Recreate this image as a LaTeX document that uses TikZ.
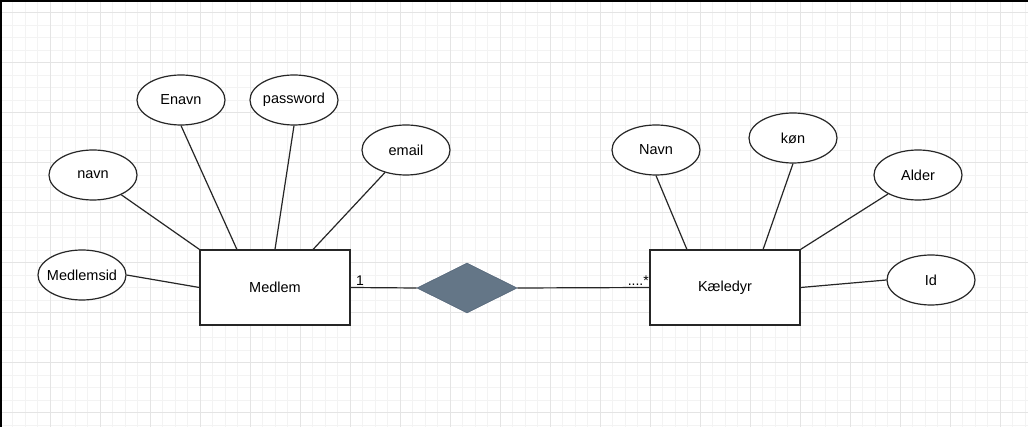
\documentclass[tikz,border=0pt]{standalone}
\usepackage{fontspec}
\setmainfont{Liberation Sans}
\usepackage{xcolor}
\usetikzlibrary{positioning, shapes.geometric}

\definecolor{gridmajor}{HTML}{E4E4E4}
\definecolor{gridminor}{HTML}{F3F3F3}
\definecolor{relfill}{HTML}{647687}
\definecolor{reldraw}{HTML}{56677A}

\tikzset{
  entity/.style={draw=black!85, line width=1.2pt, fill=white,
    minimum width=150pt, minimum height=75pt,
    font=\fontsize{14.5}{17}\selectfont},
  attrib/.style={ellipse, draw=black!85, line width=1.2pt, fill=white,
    minimum width=88pt, minimum height=50pt, inner sep=0pt,
    font=\fontsize{14.5}{17}\selectfont},
  relation/.style={diamond, fill=relfill, draw=reldraw, line width=0.6pt,
    minimum width=100pt, minimum height=50pt, inner sep=0pt},
  link/.style={draw=black!85, line width=1.2pt},
  mult/.style={inner sep=0pt, font=\fontsize{14}{16}\selectfont}
}

\begin{document}
\begin{tikzpicture}[x=1pt, y=-1pt]
  \useasboundingbox (0,0) rectangle (1028,427);
  \fill[white] (0,0) rectangle (1028,427);

  \foreach \i in {1,...,82}
    \draw[gridminor, line width=0.8pt] (\i*12.5,0) -- (\i*12.5,427);
  \foreach \i in {0,...,34}
    \draw[gridminor, line width=0.8pt] (0,\i*12.5) -- (1028,\i*12.5);
  \foreach \i in {1,...,20}
    \draw[gridmajor, line width=1pt] (\i*50,0) -- (\i*50,427);
  \foreach \i in {0,...,8}
    \draw[gridmajor, line width=1pt] (0,\i*50+12.5) -- (1028,\i*50+12.5);

  \draw[black, line width=2pt] (0,1) -- (1028,1);
  \draw[black, line width=2pt] (1,0) -- (1,427);

  \node[entity] (medlem) at (275,287.5) {Medlem};
  \node[entity] (kaeledyr) at (725,287.5) {Kæledyr};
  \node[relation] (rel) at (467,288) {};

  \node[attrib] (navn) at (93,175) {navn};
  \node[attrib] (enavn) at (181,100) {Enavn};
  \node[attrib] (password) at (294,100) {password};
  \node[attrib] (email) at (406,150) {email};
  \node[attrib, inner xsep=-8pt] (medlemsid) at (82,275) {Medlemsid};

  \node[attrib] (dyrnavn) at (656,150) {Navn};
  \node[attrib] (koen) at (793,138) {køn};
  \node[attrib] (alder) at (918,175) {Alder};
  \node[attrib] (id) at (931,280) {Id};

  \draw[link] (navn) -- (medlem.north west);
  \draw[link] (enavn.south) -- (medlem.135);
  \draw[link] (password.south) -- (medlem.north);
  \draw[link] (email) -- (medlem.45);
  \draw[link] (medlemsid.east) -- (medlem.west);

  \draw[link] (dyrnavn.south) -- (kaeledyr.135);
  \draw[link] (koen.south) -- (kaeledyr.45);
  \draw[link] (alder) -- (kaeledyr.north east);
  \draw[link] (id.west) -- (kaeledyr.east);

  \draw[link] (medlem.east) -- (rel.west);
  \draw[link] (rel.east) -- (kaeledyr.west);

  \node[mult, anchor=base west] (en) at (356,286) {1};
  \node[mult, anchor=base east] (mange) at (649,286) {....*};
\end{tikzpicture}
\end{document}
